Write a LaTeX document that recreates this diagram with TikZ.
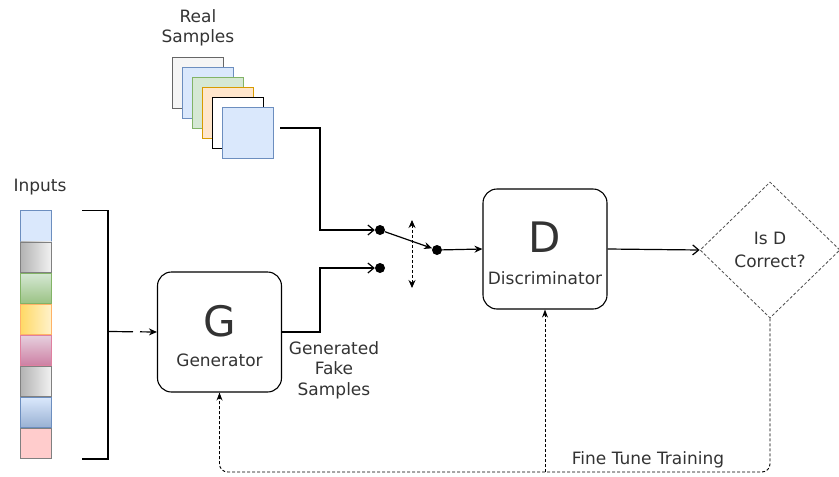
\documentclass[tikz,border=0pt]{standalone}
\usepackage{fontspec}
\setmainfont{DejaVu Sans}
\usetikzlibrary{arrows.meta,positioning,shapes.geometric}
\definecolor{txt}{HTML}{333333}
\definecolor{blueF}{HTML}{DAE8FC}
\definecolor{blueD}{HTML}{6C8EBF}
\definecolor{greenF}{HTML}{D5E8D4}
\definecolor{greenD}{HTML}{82B366}
\definecolor{orangeF}{HTML}{FFE6CC}
\definecolor{orangeD}{HTML}{D79B00}
\definecolor{grayF}{HTML}{F5F5F5}
\definecolor{grayD}{HTML}{666666}
\definecolor{yellowD}{HTML}{FFD966}
\definecolor{yellowF}{HTML}{FFF2CC}
\definecolor{pinkF}{HTML}{E6D0DE}
\definecolor{pinkD}{HTML}{CD7FA3}
\tikzset{%
	block/.style    = {draw, rectangle, rounded corners=14pt, minimum width=124pt, minimum height=120pt, line width=1.1pt},
	check/.style    = {draw=black!70, diamond, dash pattern=on 3pt off 2pt, minimum width=140pt, minimum height=136pt, inner sep=0pt, align=center, text=txt, font=\fontsize{17}{23}\selectfont, line width=0.8pt},
	sample/.style   = {draw, rectangle, minimum size=51pt, inner sep=0pt, line width=1pt},
	cell/.style     = {draw=gray, rectangle, minimum width=31pt, minimum height=30.3pt, inner sep=0pt, line width=0.8pt},
	dot/.style      = {circle, fill=black, minimum size=10pt, inner sep=0pt},
	lbl/.style      = {text=txt, font=\fontsize{17}{20.5}\selectfont, align=center, inner sep=0pt},
	big/.style      = {text=txt, font=\fontsize{42}{42}\selectfont, inner sep=0pt},
	openarrow/.style= {line width=1.2pt, -{Straight Barb[length=6pt,width=10pt]}},
	arrow/.style    = {line width=1.2pt, -{Stealth[length=8pt,width=7pt]}},
	feedback/.style = {line width=0.9pt, dash pattern=on 3pt off 2pt, -{Stealth[length=8pt,width=6pt]}},
}

\begin{document}
\begin{tikzpicture}[x=1pt, y=-1pt]
	\useasboundingbox (0,0) rectangle (839,477);
	% real samples
	\node[lbl] (real) at (198,28) {Real\\Samples};
	\node[sample, draw=grayD, fill=grayF] (s1) at (197.5,82.5) {};
	\node[sample, draw=blueD, fill=blueF] (s2) at ([shift={(10,10)}]s1.center) {};
	\node[sample, draw=greenD, fill=greenF] (s3) at ([shift={(10,10)}]s2.center) {};
	\node[sample, draw=orangeD, fill=orangeF] (s4) at ([shift={(10,10)}]s3.center) {};
	\node[sample, draw=black, fill=white] (s5) at ([shift={(10,10)}]s4.center) {};
	\node[sample, draw=blueD, fill=blueF] (s6) at ([shift={(10.5,10.5)}]s5.center) {};
	% inputs
	\node[lbl] (inputs) at (40,187) {Inputs};
	\node[cell, draw=blueD, fill=blueF] (c1) at (36,226) {};
	\node[cell, below=0pt of c1, left color=gray!60, right color=gray!10] (c2) {};
	\node[cell, below=0pt of c2, top color=greenF, bottom color=greenD!80, draw=greenD] (c3) {};
	\node[cell, below=0pt of c3, left color=yellowD, right color=yellowF, draw=orange!60] (c4) {};
	\node[cell, below=0pt of c4, top color=pinkF, bottom color=pinkD, draw=purple!50] (c5) {};
	\node[cell, below=0pt of c5, left color=gray!60, right color=gray!10] (c6) {};
	\node[cell, below=0pt of c6, top color=blueF, bottom color=blueD!70, draw=blueD] (c7) {};
	\node[cell, below=0pt of c7, fill=red!20] (c8) {};
	\coordinate (brk) at (108,331.5);
	\draw[line width=1.8pt] ([xshift=30.5pt]c1.north east) -| (brk) |- ([xshift=30.5pt]c8.south east);
	% generator and discriminator
	\node[block] (gen) at (219.5,332) {};
	\node[big] (gletter) at ([yshift=11pt]gen.center) {G};
	\node[lbl] (gname) at ([yshift=-28pt]gen.center) {Generator};
	\node[lbl] (fake) at (334,370) {Generated\\Fake\\Samples};
	\node[block] (disc) at (545,249) {};
	\node[big] (dletter) at ([yshift=12pt]disc.center) {D};
	\node[lbl] (dname) at ([yshift=-29pt]disc.center) {Discriminator};
	\node[check] (chk) at (770,250) {Is D\\Correct?};
	% switch
	\node[dot] (d1) at (380,230) {};
	\node[dot] (d2) at (380,268) {};
	\node[dot] (d3) at (437,250) {};
	\coordinate (sw1) at (412,220);
	\coordinate (sw2) at (412,288);
	\draw[line width=0.9pt, dash pattern=on 3pt off 2pt, {Stealth[length=8pt,width=7pt]}-{Stealth[length=8pt,width=7pt]}] (sw1) -- (sw2);
	\draw[arrow] (brk) -- (gen.west) [dash pattern=on 25pt off 7pt on 30pt];
	\draw[openarrow] ([shift={(6,-5)}]s6.east) -- ++(40,0) |- (d1);
	\draw[openarrow] (gen.east) -- ++(38,0) |- (d2);
	\draw[arrow] (d1) -- (d3);
	\draw[arrow] (d3) -- (disc.west);
	\draw[openarrow] (disc.east) -- (chk.west);
	% fine tune training
	\coordinate (fbr) at (chk.south |- 0,472);
	\draw[feedback, rounded corners=8pt] (chk.south) -- (fbr) -| (gen.south);
	\draw[feedback] (disc.south |- fbr) -- (disc.south);
	\node[lbl] (ftt) at (648,460) {Fine Tune Training};
\end{tikzpicture}
\end{document}
